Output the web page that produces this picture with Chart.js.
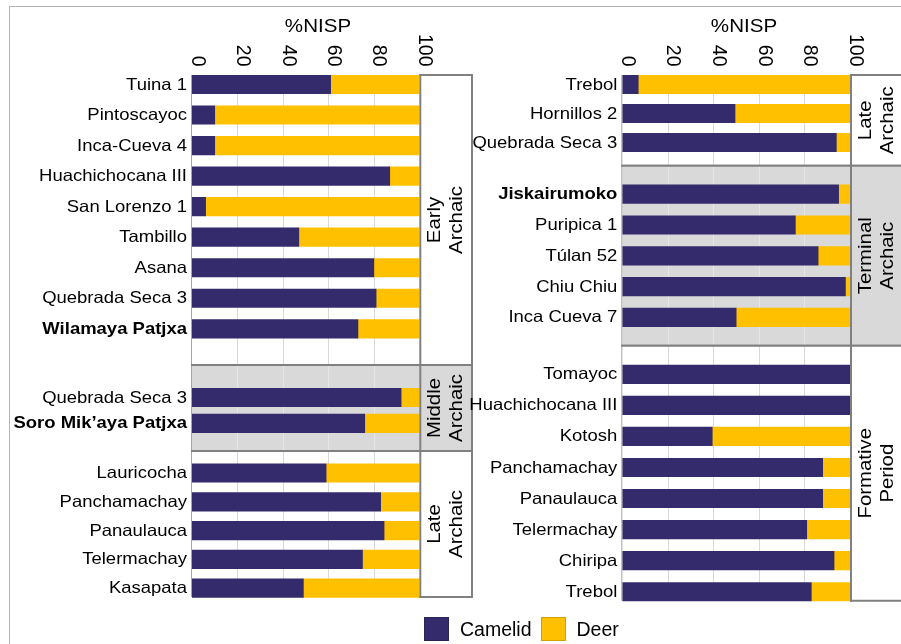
<!DOCTYPE html>
<html>
<head>
<meta charset="utf-8">
<script src="https://cdn.jsdelivr.net/npm/chart.js@4.4.0/dist/chart.umd.min.js"></script>
<style>
  html, body { margin: 0; padding: 0; background: #ffffff; }
  body { width: 901px; height: 644px; overflow: hidden; position: relative; font-family: 'Liberation Sans', Arial, sans-serif; }
  #frame { position: absolute; left: 9px; top: 6px; width: 1000px; height: 1000px; border-left: 1px solid #b3b3b3; border-top: 1px solid #b3b3b3; }
  canvas.layer { position: absolute; left: 0; top: 0; }
  #legend { position: absolute; left: 424px; top: 617px; display: flex; align-items: center; height: 24px; }
  #legend .sw { width: 23px; height: 22px; box-sizing: content-box; margin-right: 11px; }
  #legend .tx { font-size: 19.5px; color: #000; margin-right: 9px; line-height: 24px; }
</style>
</head>
<body>
<div id="frame"></div>
<div id="stack"></div>
<div id="legend"></div>
<script>
// ---------------- DATA ----------------
const seriesNames = ['Camelid', 'Deer'];
const axisTitle = '%NISP';
const xTickValues = [0, 20, 40, 60, 80, 100];

// Left column
const earlyArchaicSites   = ['Tuina 1', 'Pintoscayoc', 'Inca-Cueva 4', 'Huachichocana III', 'San Lorenzo 1', 'Tambillo', 'Asana', 'Quebrada Seca 3', 'Wilamaya Patjxa'];
const earlyArchaicCamelid = [61, 10, 10, 87, 6, 47, 80, 81, 73];
const earlyArchaicDeer    = [39, 90, 90, 13, 94, 53, 20, 19, 27];

const middleArchaicSites   = ['Quebrada Seca 3', 'Soro Mik\u2019aya Patjxa'];
const middleArchaicCamelid = [92, 76];
const middleArchaicDeer    = [8, 24];

const lateArchaicASites   = ['Lauricocha', 'Panchamachay', 'Panaulauca', 'Telermachay', 'Kasapata'];
const lateArchaicACamelid = [59, 83, 84.5, 75, 49];
const lateArchaicADeer    = [41, 17, 15.5, 25, 51];

// Right column
const lateArchaicBSites   = ['Trebol', 'Hornillos 2', 'Quebrada Seca 3'];
const lateArchaicBCamelid = [7, 49.5, 94];
const lateArchaicBDeer    = [93, 50.5, 6];

const terminalArchaicSites   = ['Jiskairumoko', 'Puripica 1', 'T\u00falan 52', 'Chiu Chiu', 'Inca Cueva 7'];
const terminalArchaicCamelid = [95, 76, 86, 98, 50];
const terminalArchaicDeer    = [5, 24, 14, 2, 50];

const formativeSites   = ['Tomayoc', 'Huachichocana III', 'Kotosh', 'Panchamachay', 'Panaulauca', 'Telermachay', 'Chiripa', 'Trebol'];
const formativeCamelid = [100, 100, 39.5, 88, 88, 81, 93, 83];
const formativeDeer    = [0, 0, 60.5, 12, 12, 19, 7, 17];

const boldSites = ['Wilamaya Patjxa', 'Soro Mik\u2019aya Patjxa', 'Jiskairumoko'];

// ---------------- STYLE / LAYOUT ----------------
const W = 901, H = 644;
const COLORS = ['#342b6d', '#ffc000'];
const SWATCH_BORDER = ['#2a2358', '#d4a000'];
const columns = [
  { plotL: 192, plotR: 419.3, boxR: 472, titleX: 318 },
  { plotL: 622.3, plotR: 850, boxR: 903, titleX: 744 }
];
const panels = [
  { col: 0, sites: earlyArchaicSites, camelid: earlyArchaicCamelid, deer: earlyArchaicDeer, period: ['Early', 'Archaic'], shaded: false,
    bandTop: 75, bandBottom: 365, firstCenter: 84.5, step: 30.54, axis: true, first: true, last: false },
  { col: 0, sites: middleArchaicSites, camelid: middleArchaicCamelid, deer: middleArchaicDeer, period: ['Middle', 'Archaic'], shaded: true,
    bandTop: 365, bandBottom: 451, firstCenter: 397.5, step: 25.8, axis: false, first: false, last: false },
  { col: 0, sites: lateArchaicASites, camelid: lateArchaicACamelid, deer: lateArchaicADeer, period: ['Late', 'Archaic'], shaded: false,
    bandTop: 451, bandBottom: 597, firstCenter: 473, step: 28.8, axis: false, first: false, last: true },
  { col: 1, sites: lateArchaicBSites, camelid: lateArchaicBCamelid, deer: lateArchaicBDeer, period: ['Late', 'Archaic'], shaded: false,
    bandTop: 75, bandBottom: 165.7, firstCenter: 84.5, step: 29, axis: true, first: true, last: false },
  { col: 1, sites: terminalArchaicSites, camelid: terminalArchaicCamelid, deer: terminalArchaicDeer, period: ['Terminal', 'Archaic'], shaded: true,
    bandTop: 165.7, bandBottom: 345.7, firstCenter: 194.2, step: 30.8, axis: false, first: false, last: false },
  { col: 1, sites: formativeSites, camelid: formativeCamelid, deer: formativeDeer, period: ['Formative', 'Period'], shaded: false,
    bandTop: 345.7, bandBottom: 600.7, firstCenter: 374.3, step: 31.06, axis: false, first: false, last: true }
];

function drawText(ctx, text, x, y, font, sx, align, baseline, rot) {
  ctx.save();
  ctx.translate(x, y);
  if (rot) ctx.rotate(rot);
  ctx.scale(sx, 1);
  ctx.font = font;
  ctx.textAlign = align;
  ctx.textBaseline = baseline;
  ctx.fillStyle = '#000000';
  ctx.fillText(text, 0, 0);
  ctx.restore();
}

function hLine(ctx, x1, x2, y, w, c) {
  ctx.save(); ctx.strokeStyle = c; ctx.lineWidth = w;
  ctx.beginPath(); ctx.moveTo(x1, y); ctx.lineTo(x2, y); ctx.stroke(); ctx.restore();
}
function vLine(ctx, x, y1, y2, w, c) {
  ctx.save(); ctx.strokeStyle = c; ctx.lineWidth = w;
  ctx.beginPath(); ctx.moveTo(x, y1); ctx.lineTo(x, y2); ctx.stroke(); ctx.restore();
}

function panelPlugin(p, col) {
  return {
    id: 'panelDecor',
    beforeDatasetsDraw(chart) {
      const ctx = chart.ctx, xs = chart.scales.x;
      ctx.save();
      ctx.fillStyle = p.shaded ? '#d9d9d9' : '#ffffff';
      ctx.fillRect(col.plotL, p.bandTop, col.boxR - col.plotL, p.bandBottom - p.bandTop);
      ctx.restore();
      xTickValues.slice(1, -1).forEach(v => {
        const px = Math.round(xs.getPixelForValue(v)) + 0.5;
        vLine(ctx, px, p.bandTop, p.bandBottom, 1, p.shaded ? '#e6e6e6' : '#d9d9d9');
      });
    },
    afterDatasetsDraw(chart) {
      const ctx = chart.ctx, xs = chart.scales.x, ys = chart.scales.y;
      const edge = '#808080';
      const zeroX = xs.getPixelForValue(0);
      const hundredX = xs.getPixelForValue(100);
      // y axis line
      vLine(ctx, zeroX - 0.5, p.bandTop, p.bandBottom, 1, '#a6a6a6');
      // plot / period box separator and box right edge
      vLine(ctx, hundredX + 1, p.bandTop - 1, p.bandBottom + 1, 2, edge);
      vLine(ctx, col.boxR, p.bandTop - 1, p.bandBottom + 1, 2, edge);
      // horizontal borders
      hLine(ctx, p.first ? hundredX : zeroX - 1, col.boxR + 1, p.bandTop, 2, edge);
      hLine(ctx, p.last ? hundredX : zeroX - 1, col.boxR + 1, p.bandBottom, 2, edge);
      // category labels
      p.sites.forEach((s, i) => {
        const y = ys.getPixelForValue(i);
        const bold = boldSites.includes(s);
        drawText(ctx, s, zeroX - 5, y + 0.5, (bold ? 'bold ' : '') + '16.5px "Liberation Sans", Arial, sans-serif', 1.12, 'right', 'middle', 0);
      });
      // period label (rotated, two lines)
      const cx = (hundredX + 1 + col.boxR) / 2;
      const cy = (p.bandTop + p.bandBottom) / 2;
      p.period.forEach((t, i) => {
        const lx = cx + (i === 0 ? -11 : 11);
        drawText(ctx, t, lx, cy, '18.5px "Liberation Sans", Arial, sans-serif', 1.1, 'center', 'middle', -Math.PI / 2);
      });
      // top axis ticks and title
      if (p.axis) {
        xTickValues.forEach(v => {
          const px = xs.getPixelForValue(v);
          drawText(ctx, String(v), px + 5, 66.5, '19.5px "Liberation Sans", Arial, sans-serif', 1, 'right', 'middle', Math.PI / 2);
        });
        drawText(ctx, axisTitle, col.titleX, 31.7, '18.7px "Liberation Sans", Arial, sans-serif', 1.1, 'center', 'alphabetic', 0);
      }
    }
  };
}

const stack = document.getElementById('stack');
panels.forEach(p => {
  const col = columns[p.col];
  const cv = document.createElement('canvas');
  cv.className = 'layer';
  cv.width = W; cv.height = H;
  cv.style.width = W + 'px'; cv.style.height = H + 'px';
  stack.appendChild(cv);
  const slotTop = p.firstCenter - p.step / 2;
  const slotBottom = slotTop + p.step * p.sites.length;
  new Chart(cv, {
    type: 'bar',
    data: {
      labels: p.sites,
      datasets: [
        { label: seriesNames[0], data: p.camelid, backgroundColor: COLORS[0], borderWidth: 0, barThickness: 18.5 },
        { label: seriesNames[1], data: p.deer, backgroundColor: COLORS[1], borderWidth: 0, barThickness: 18.5 }
      ]
    },
    options: {
      indexAxis: 'y',
      responsive: false,
      maintainAspectRatio: false,
      animation: false,
      devicePixelRatio: 1,
      layout: { padding: { left: col.plotL, right: W - col.plotR, top: slotTop, bottom: H - slotBottom } },
      scales: {
        x: { type: 'linear', min: 0, max: 100, stacked: true, display: false, ticks: { stepSize: 20 } },
        y: { type: 'category', stacked: true, display: false, offset: true }
      },
      plugins: { legend: { display: false }, tooltip: { enabled: false }, title: { display: false } }
    },
    plugins: [panelPlugin(p, col)]
  });
});

// legend
const lg = document.getElementById('legend');
seriesNames.forEach((n, i) => {
  const sw = document.createElement('span');
  sw.className = 'sw';
  sw.style.background = COLORS[i];
  sw.style.border = '1px solid ' + SWATCH_BORDER[i];
  const tx = document.createElement('span');
  tx.className = 'tx';
  tx.textContent = n;
  lg.appendChild(sw); lg.appendChild(tx);
});
</script>
</body>
</html>
